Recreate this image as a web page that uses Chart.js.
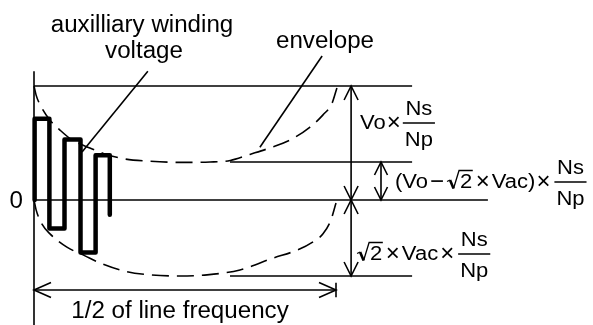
<!DOCTYPE html>
<html>
<head>
<meta charset="utf-8">
<script src="https://cdn.jsdelivr.net/npm/chart.js@4/dist/chart.umd.min.js"></script>
<style>
html, body { margin: 0; padding: 0; background: #fff; }
#wrap { width: 593px; height: 325px; }
</style>
</head>
<body>
<div id="wrap"><canvas id="diagram" width="593" height="325"></canvas></div>
<script>
// time in ms over half a 50 Hz line cycle,
// voltage in units of (Vo - sqrt2*Vac) x Ns/Np
var halfCycle = 10;
var levelVo = 3;      // Vo x Ns/Np
var levelDiff = 1;    // (Vo - sqrt2 x Vac) x Ns/Np
var levelPeak = -2;   // -sqrt2 x Vac x Ns/Np

// envelope
var upperTime = [0, 0.07, 0.26, 0.53, 0.86, 1.26, 1.85, 2.35, 3.01, 3.84, 4.83, 5.83, 6.5, 7.15, 7.81, 8.48, 9.14, 9.57, 9.87, 10.03];
var upperVolt = [3, 2.76, 2.42, 2.1, 1.84, 1.58, 1.37, 1.21, 1.08, 1.02, 0.99, 1.0, 1.04, 1.2, 1.37, 1.58, 1.92, 2.24, 2.55, 2.95];
var lowerTime = [0, 0.07, 0.26, 0.53, 1.09, 1.69, 2.19, 3.08, 3.84, 4.83, 5.73, 6.82, 7.91, 8.71, 9.24, 9.57, 9.83, 10.0];
var lowerVolt = [0, -0.26, -0.63, -0.89, -1.24, -1.47, -1.66, -1.89, -1.97, -2.0, -1.97, -1.84, -1.53, -1.32, -1.1, -0.89, -0.53, -0.08];

// auxiliary winding square wave
var switchTimes = [0.02, 0.51, 1.01, 1.54, 2.04, 2.51];
var swingLevels = [2.14, -0.75, 1.59, -1.38, 1.18];
var lastLevel = -0.39;

// reference levels and dimension marks
var refStart = 6.49, refEnd = 12.52, zeroEnd = 15.03;
var voArrowAt = 10.5, diffArrowAt = 11.49, periodArrowAt = -2.37;
var axisTop = 3.39, axisBottom = -3.4;
var auxLeader = [[3.77, 3.39], [1.59, 1.26]];
var envLeader = [[9.54, 3.79], [7.48, 1.39]];

function pts(xs, ys) {
    return xs.map(function (x, i) { return { x: x, y: ys[i] }; });
}
function seg(a, b) {
    return { data: [{ x: a[0], y: a[1] }, { x: b[0], y: b[1] }], borderColor: '#000', borderWidth: 1.6 };
}

var wave = [{ x: switchTimes[0], y: 0 }];
for (var i = 0; i < swingLevels.length; i++) {
    wave.push({ x: switchTimes[i], y: swingLevels[i] });
    wave.push({ x: switchTimes[i + 1], y: swingLevels[i] });
}
wave.push({ x: switchTimes[switchTimes.length - 1], y: lastLevel });

var datasets = [
    seg([0, levelVo], [refEnd, levelVo]),
    seg([refStart, levelDiff], [refEnd, levelDiff]),
    seg([0, 0], [zeroEnd, 0]),
    seg([refStart, levelPeak], [refEnd, levelPeak]),
    seg([0, axisTop], [0, axisBottom]),
    seg([voArrowAt, levelVo], [voArrowAt, levelPeak]),
    seg([diffArrowAt, levelDiff], [diffArrowAt, 0]),
    seg([0, periodArrowAt], [halfCycle, periodArrowAt]),
    seg([halfCycle, periodArrowAt + 0.19], [halfCycle, periodArrowAt - 0.19]),
    seg(auxLeader[0], auxLeader[1]),
    seg(envLeader[0], envLeader[1]),
    {
        data: pts(upperTime, upperVolt), borderColor: '#000', borderWidth: 1.6,
        borderDash: [17, 8], cubicInterpolationMode: 'monotone'
    },
    {
        data: pts(lowerTime, lowerVolt), borderColor: '#000', borderWidth: 1.6,
        borderDash: [17, 8], cubicInterpolationMode: 'monotone'
    },
    {
        data: wave, borderColor: '#000', borderWidth: 4.5,
        borderJoinStyle: 'round', borderCapStyle: 'round'
    }
];

var FONT = '"Liberation Sans", Arial, sans-serif';

function head(ctx, x, y, dx, dy, len, half) {
    ctx.beginPath();
    ctx.moveTo(x - dx * len - dy * half, y - dy * len + dx * half);
    ctx.lineTo(x, y);
    ctx.lineTo(x - dx * len + dy * half, y - dy * len - dx * half);
    ctx.stroke();
}

// text is a little wider than plain Arial in the original
function wideText(ctx, t, x, y, align, s) {
    var w = ctx.measureText(t).width * s;
    var left = align === 'center' ? x - w / 2 : (align === 'right' ? x - w : x);
    ctx.save();
    ctx.translate(left, y);
    ctx.scale(s, 1);
    ctx.textAlign = 'left';
    ctx.fillText(t, 0, 0);
    ctx.restore();
    return w;
}

function mathRow(ctx, x, barY, parts) {
    var s = 1.1;
    var base = barY + 5.5;
    parts.forEach(function (p) {
        ctx.font = '20px ' + FONT;
        if (p.gap) { x += p.gap; return; }
        if (p.text) {
            x += wideText(ctx, p.text, x, base, 'left', s);
        }
        if (p.op) {
            // operators are set a bit larger in the original
            ctx.font = '24px ' + FONT;
            x += wideText(ctx, p.op, x, base + 1.3, 'left', 1);
        }
        if (p.sqrt) {
            var top = base - 17;
            ctx.lineWidth = 1.3;
            ctx.beginPath();
            ctx.moveTo(x, base - 6);
            ctx.lineTo(x + 3, base - 7.5);
            ctx.stroke();
            ctx.lineWidth = 2.6;
            ctx.beginPath();
            ctx.moveTo(x + 3, base - 7.5);
            ctx.lineTo(x + 6.5, base + 1);
            ctx.stroke();
            ctx.lineWidth = 1.3;
            ctx.beginPath();
            ctx.moveTo(x + 6.5, base + 1);
            ctx.lineTo(x + 12, top);
            var w = ctx.measureText(p.sqrt).width * s;
            ctx.lineTo(x + 13.5 + w, top);
            ctx.stroke();
            wideText(ctx, p.sqrt, x + 13, base, 'left', s);
            x += 13.5 + w;
        }
        if (p.frac) {
            var w = Math.max(ctx.measureText(p.frac[0]).width, ctx.measureText(p.frac[1]).width) * s + 4;
            ctx.lineWidth = 1.3;
            ctx.beginPath();
            ctx.moveTo(x, barY);
            ctx.lineTo(x + w, barY);
            ctx.stroke();
            wideText(ctx, p.frac[0], x + w / 2, barY - 8, 'center', s);
            wideText(ctx, p.frac[1], x + w / 2, barY + 23, 'center', s);
            x += w;
        }
    });
}

var annotate = {
    id: 'annotate',
    afterDatasetsDraw: function (chart) {
        var ctx = chart.ctx;
        var sx = chart.scales.x, sy = chart.scales.y;
        var X = function (v) { return sx.getPixelForValue(v); };
        var Y = function (v) { return sy.getPixelForValue(v); };
        ctx.save();
        ctx.strokeStyle = '#000';
        ctx.fillStyle = '#000';
        ctx.lineWidth = 1.6;

        // arrow heads
        head(ctx, X(voArrowAt), Y(levelVo), 0, -1, 14, 7);
        head(ctx, X(voArrowAt), Y(0), 0, 1, 14, 7);
        head(ctx, X(voArrowAt), Y(0), 0, -1, 14, 7);
        head(ctx, X(voArrowAt), Y(levelPeak), 0, 1, 14, 7);
        head(ctx, X(diffArrowAt), Y(levelDiff), 0, -1, 13, 6.5);
        head(ctx, X(diffArrowAt), Y(0), 0, 1, 13, 6.5);
        head(ctx, X(0), Y(periodArrowAt), -1, 0, 17, 7.5);
        head(ctx, X(halfCycle), Y(periodArrowAt), 1, 0, 17, 7.5);

        // labels
        var s = 1.05;
        ctx.font = '23px ' + FONT;
        wideText(ctx, 'auxilliary winding', 142, 32, 'center', s);
        wideText(ctx, 'voltage', 144, 58, 'center', s);
        wideText(ctx, 'envelope', 325, 48, 'center', s);
        wideText(ctx, '1/2 of line frequency', X(halfCycle / 2) - 5, 318, 'center', s);
        wideText(ctx, '0', X(0) - 11, Y(0) + 8, 'right', s);

        var x0 = X(voArrowAt);
        mathRow(ctx, x0 + 9, (Y(levelVo) + Y(levelDiff)) / 2 - 1, [
            { text: 'Vo' }, { gap: 1 }, { op: '\u00d7' }, { gap: 2 }, { frac: ['Ns', 'Np'] }
        ]);
        mathRow(ctx, X(diffArrowAt) + 14, (Y(levelDiff) + Y(0)) / 2 + 1, [
            { text: '(Vo' }, { gap: 2 }, { op: '\u2212' }, { gap: 3 }, { sqrt: '2' }, { gap: 3 },
            { op: '\u00d7' }, { gap: 2 }, { text: 'Vac)' }, { gap: 1 }, { op: '\u00d7' }, { gap: 4 },
            { frac: ['Ns', 'Np'] }
        ]);
        mathRow(ctx, x0 + 6, Y(levelPeak) - 22, [
            { sqrt: '2' }, { gap: 3 }, { op: '\u00d7' }, { gap: 2 }, { text: 'Vac' }, { gap: 2 },
            { op: '\u00d7' }, { gap: 4 }, { frac: ['Ns', 'Np'] }
        ]);
        ctx.restore();
    }
};

new Chart(document.getElementById('diagram').getContext('2d'), {
    type: 'scatter',
    data: { datasets: datasets },
    options: {
        responsive: false,
        animation: false,
        showLine: true,
        layout: { padding: 0 },
        elements: { point: { radius: 0, hoverRadius: 0 }, line: { fill: false } },
        plugins: { legend: { display: false }, tooltip: { enabled: false } },
        scales: {
            x: { type: 'linear', display: false, min: -34 / 30.2, max: 559 / 30.2 },
            y: { type: 'linear', display: false, min: -125 / 38, max: 200 / 38 }
        }
    },
    plugins: [annotate]
});
</script>
</body>
</html>
